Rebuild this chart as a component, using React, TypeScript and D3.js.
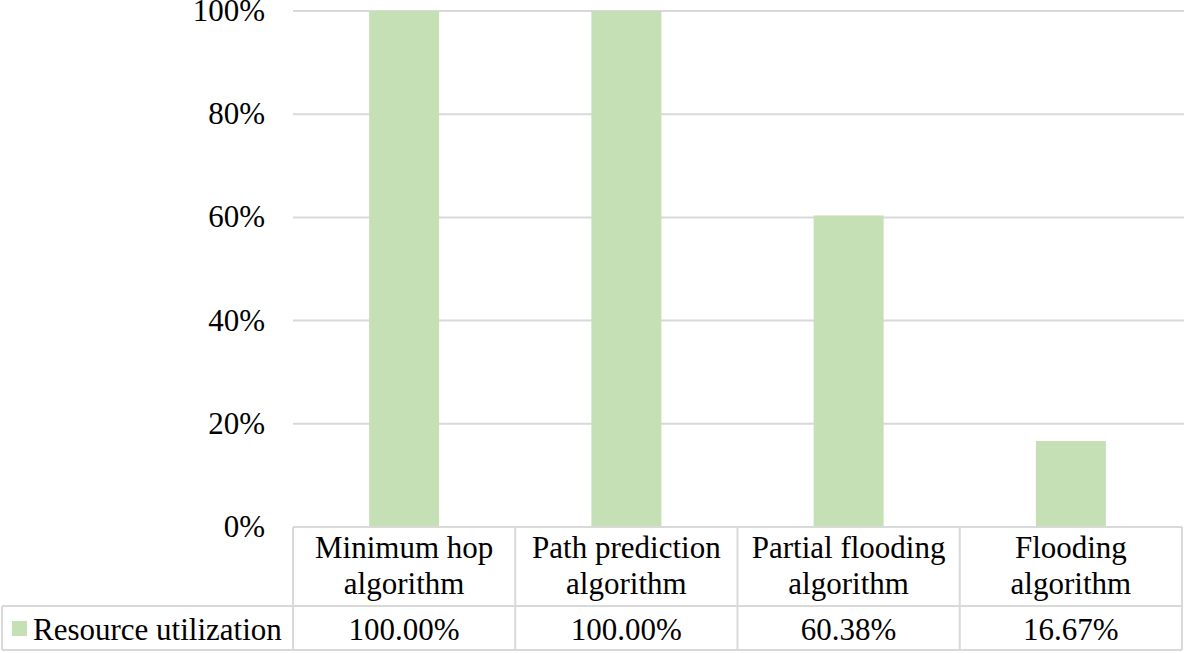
import * as d3 from 'd3';

const categories = [
  ['Minimum hop', 'algorithm'],
  ['Path prediction', 'algorithm'],
  ['Partial flooding', 'algorithm'],
  ['Flooding', 'algorithm'],
];
const values = [1.0, 1.0, 0.6038, 0.1667];
const valueLabels = ['100.00%', '100.00%', '60.38%', '16.67%'];
const yTicks = [0, 0.2, 0.4, 0.6, 0.8, 1.0];
const seriesName = 'Resource utilization';

const W = 1184;
const H = 653;
const FONT = '"Liberation Serif", serif';
const GRID = '#d9d9d9';
const BAR = '#c5e0b4';

export default function App() {
  const left = 293;
  const right = 1182;
  const top = 11;
  const bottom = 527;
  const rowSplit = 606;
  const tableBottom = 650;
  const barW = 70;

  const x = d3.scaleBand<number>()
    .domain(d3.range(categories.length))
    .range([left, right])
    .padding(0);
  const y = d3.scaleLinear().domain([0, 1]).range([bottom, top]);

  const colEdges = d3.range(categories.length).map(i => x(i) || 0).concat([right]);

  return (
    <svg
      width={W}
      height={H}
      style={{ position: 'absolute', left: 0, top: 0, background: '#fff' }}
    >
      {/* grid */}
      {yTicks.slice(1).map(t => (
        <line key={t} x1={left} x2={W} y1={y(t)} y2={y(t)} stroke={GRID} strokeWidth={2} />
      ))}

      {/* y labels */}
      {yTicks.map(t => (
        <text key={t} x={265} y={y(t) + 10} textAnchor="end" fill="#000" fontFamily={FONT} fontSize={31}>
          {`${Math.round(t * 100)}%`}
        </text>
      ))}

      {/* bars */}
      {values.map((v, i) => (
        <rect
          key={i}
          x={(x(i) || 0) + x.bandwidth() / 2 - barW / 2}
          y={y(v)}
          width={barW}
          height={bottom - y(v)}
          fill={BAR}
        />
      ))}

      {/* data table */}
      <g stroke={GRID} strokeWidth={2} fill="none">
        <line x1={left} x2={right} y1={bottom} y2={bottom} />
        <line x1={2} x2={right} y1={rowSplit} y2={rowSplit} />
        <line x1={2} x2={right} y1={tableBottom} y2={tableBottom} />
        <line x1={2} x2={2} y1={rowSplit} y2={tableBottom} />
        {colEdges.map((xx, i) => (
          <line key={i} x1={xx} x2={xx} y1={bottom} y2={tableBottom} />
        ))}
      </g>

      {categories.map((lines, i) => {
        const cx = (x(i) || 0) + x.bandwidth() / 2;
        return (
          <g key={i}>
            {lines.map((ln, j) => (
              <text key={j} x={cx} y={558 + j * 36} textAnchor="middle" fill="#000" fontFamily={FONT} fontSize={31}>{ln}</text>
            ))}
            <text x={cx} y={640} textAnchor="middle" fill="#000" fontFamily={FONT} fontSize={31}>{valueLabels[i]}</text>
          </g>
        );
      })}

      {/* legend key */}
      <rect x={12} y={621} width={15} height={15} fill={BAR} />
      <text x={33} y={640} fill="#000" fontFamily={FONT} fontSize={31}>{seriesName}</text>
    </svg>
  );
}
